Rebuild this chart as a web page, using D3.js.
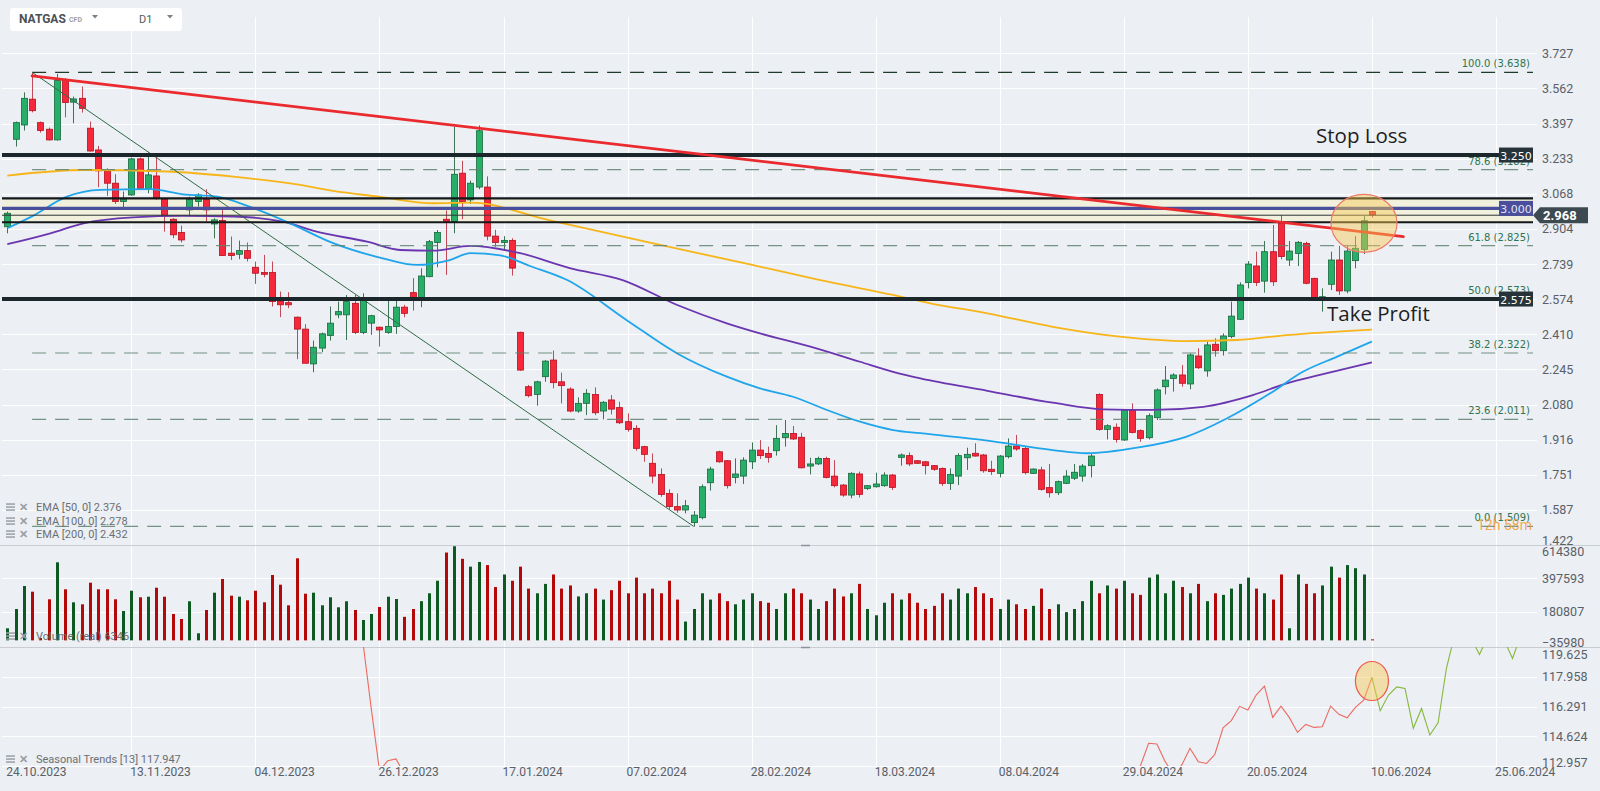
<!DOCTYPE html>
<html>
<head>
<meta charset="utf-8">
<script src="https://cdn.jsdelivr.net/npm/d3@7"></script>
<style>
  body { margin: 0; background: #eceff3; }
  svg { display: block; font-family: Roboto, 'Noto Sans', sans-serif; }
</style>
</head>
<body>
<svg id="chart" width="1600" height="791"></svg>
<script>
// ---- data ----
// daily candles, [open, high, low, close], bar 0 = 24.10.2023, bar 165 = 10.06.2024
const ohlc = [
  [2.914, 2.985, 2.883, 2.977], [3.324, 3.407, 3.290, 3.402], [3.391, 3.544, 3.365, 3.516], [3.512, 3.637, 3.450, 3.458],
  [3.402, 3.407, 3.355, 3.365], [3.371, 3.379, 3.318, 3.321], [3.321, 3.630, 3.318, 3.599], [3.602, 3.610, 3.427, 3.496],
  [3.498, 3.524, 3.399, 3.513], [3.516, 3.571, 3.449, 3.469], [3.376, 3.407, 3.266, 3.269], [3.274, 3.293, 3.099, 3.176],
  [3.176, 3.188, 3.059, 3.118], [3.118, 3.160, 3.021, 3.032], [3.032, 3.079, 2.993, 3.043], [3.063, 3.238, 3.059, 3.232],
  [3.232, 3.238, 3.087, 3.094], [3.094, 3.262, 3.071, 3.157], [3.152, 3.243, 3.040, 3.048], [3.043, 3.048, 2.891, 2.966],
  [2.949, 2.954, 2.860, 2.876], [2.887, 2.919, 2.840, 2.852], [2.993, 3.055, 2.962, 3.043], [3.032, 3.071, 3.008, 3.063],
  [3.043, 3.090, 2.938, 2.993], [2.927, 2.954, 2.860, 2.946], [2.943, 2.993, 2.779, 2.779], [2.790, 2.868, 2.758, 2.779],
  [2.785, 2.849, 2.762, 2.802], [2.802, 2.840, 2.751, 2.766], [2.724, 2.751, 2.646, 2.696], [2.699, 2.782, 2.677, 2.691],
  [2.699, 2.751, 2.540, 2.563], [2.566, 2.610, 2.490, 2.548], [2.558, 2.607, 2.532, 2.548], [2.490, 2.493, 2.293, 2.434],
  [2.434, 2.457, 2.274, 2.274], [2.271, 2.380, 2.232, 2.349], [2.345, 2.418, 2.326, 2.412], [2.404, 2.540, 2.380, 2.462],
  [2.501, 2.563, 2.485, 2.516], [2.501, 2.594, 2.383, 2.563], [2.555, 2.594, 2.410, 2.418], [2.418, 2.602, 2.410, 2.574],
  [2.462, 2.501, 2.407, 2.497], [2.443, 2.446, 2.352, 2.430], [2.418, 2.571, 2.412, 2.446], [2.446, 2.568, 2.412, 2.537],
  [2.537, 2.548, 2.490, 2.508], [2.605, 2.673, 2.521, 2.583], [2.583, 2.719, 2.537, 2.683], [2.680, 2.852, 2.677, 2.844],
  [2.840, 2.899, 2.724, 2.887], [2.949, 2.990, 2.688, 2.938], [2.938, 3.383, 2.883, 3.160], [3.165, 3.223, 2.949, 3.032],
  [3.040, 3.130, 3.020, 3.118], [3.100, 3.389, 3.090, 3.364], [3.100, 3.150, 2.850, 2.870], [2.870, 2.900, 2.820, 2.840],
  [2.840, 2.870, 2.800, 2.850], [2.850, 2.860, 2.685, 2.720], [2.419, 2.422, 2.239, 2.242], [2.164, 2.172, 2.114, 2.122],
  [2.128, 2.192, 2.075, 2.187], [2.211, 2.289, 2.187, 2.284], [2.289, 2.333, 2.156, 2.183], [2.187, 2.230, 2.086, 2.169],
  [2.153, 2.161, 2.044, 2.050], [2.050, 2.114, 2.042, 2.086], [2.086, 2.153, 2.031, 2.133], [2.128, 2.161, 2.031, 2.042],
  [2.050, 2.097, 2.011, 2.091], [2.102, 2.125, 2.034, 2.059], [2.066, 2.094, 1.989, 1.995], [2.000, 2.039, 1.953, 1.964],
  [1.969, 1.984, 1.864, 1.875], [1.883, 1.887, 1.812, 1.847], [1.805, 1.851, 1.711, 1.745], [1.753, 1.781, 1.648, 1.659],
  [1.664, 1.683, 1.589, 1.602], [1.602, 1.664, 1.573, 1.586], [1.586, 1.633, 1.570, 1.606], [1.527, 1.581, 1.508, 1.562],
  [1.550, 1.706, 1.542, 1.695], [1.714, 1.789, 1.677, 1.778], [1.859, 1.864, 1.808, 1.812], [1.817, 1.820, 1.687, 1.700],
  [1.739, 1.828, 1.711, 1.755], [1.745, 1.833, 1.708, 1.820], [1.812, 1.903, 1.778, 1.867], [1.867, 1.914, 1.825, 1.841],
  [1.851, 1.883, 1.808, 1.833], [1.864, 1.984, 1.841, 1.922], [1.925, 2.008, 1.883, 1.945], [1.945, 1.980, 1.914, 1.919],
  [1.927, 1.948, 1.781, 1.784], [1.792, 1.831, 1.753, 1.802], [1.802, 1.836, 1.797, 1.828], [1.828, 1.836, 1.734, 1.739],
  [1.745, 1.820, 1.692, 1.700], [1.703, 1.708, 1.648, 1.656], [1.656, 1.763, 1.641, 1.758], [1.755, 1.766, 1.645, 1.659],
  [1.687, 1.703, 1.680, 1.700], [1.695, 1.761, 1.691, 1.708], [1.700, 1.763, 1.695, 1.750], [1.750, 1.755, 1.680, 1.692],
  [1.833, 1.851, 1.794, 1.844], [1.841, 1.856, 1.792, 1.802], [1.817, 1.820, 1.802, 1.805], [1.812, 1.816, 1.753, 1.794],
  [1.794, 1.797, 1.770, 1.777], [1.781, 1.786, 1.699, 1.711], [1.711, 1.781, 1.680, 1.753], [1.745, 1.852, 1.703, 1.841],
  [1.831, 1.878, 1.774, 1.847], [1.852, 1.899, 1.836, 1.839], [1.844, 1.849, 1.761, 1.770], [1.777, 1.817, 1.750, 1.766],
  [1.758, 1.844, 1.739, 1.839], [1.836, 1.922, 1.828, 1.886], [1.886, 1.938, 1.864, 1.872], [1.875, 1.886, 1.753, 1.761],
  [1.758, 1.781, 1.755, 1.778], [1.774, 1.789, 1.677, 1.683], [1.691, 1.802, 1.645, 1.667], [1.667, 1.724, 1.656, 1.719],
  [1.711, 1.773, 1.708, 1.745], [1.735, 1.802, 1.727, 1.763], [1.745, 1.802, 1.719, 1.792], [1.794, 1.849, 1.739, 1.839],
  [2.128, 2.133, 1.958, 1.964], [1.964, 1.988, 1.917, 1.981], [1.974, 1.992, 1.902, 1.917], [1.914, 2.058, 1.911, 2.055],
  [2.052, 2.086, 1.945, 1.950], [1.958, 1.964, 1.906, 1.922], [1.925, 2.039, 1.917, 2.028], [2.019, 2.156, 2.008, 2.149],
  [2.164, 2.261, 2.128, 2.195], [2.203, 2.227, 2.141, 2.219], [2.219, 2.266, 2.164, 2.180], [2.177, 2.320, 2.152, 2.313],
  [2.308, 2.344, 2.247, 2.253], [2.238, 2.375, 2.211, 2.360], [2.363, 2.391, 2.305, 2.333], [2.333, 2.414, 2.310, 2.402],
  [2.399, 2.563, 2.391, 2.495], [2.480, 2.653, 2.477, 2.641], [2.652, 2.753, 2.625, 2.739], [2.730, 2.797, 2.636, 2.653],
  [2.659, 2.847, 2.605, 2.797], [2.797, 2.922, 2.636, 2.656], [2.938, 2.969, 2.761, 2.774], [2.758, 2.847, 2.730, 2.800],
  [2.789, 2.847, 2.730, 2.841], [2.836, 2.844, 2.644, 2.649], [2.672, 2.675, 2.571, 2.578], [2.575, 2.625, 2.516, 2.586],
  [2.644, 2.797, 2.617, 2.758], [2.758, 2.824, 2.594, 2.613], [2.613, 2.828, 2.602, 2.800], [2.755, 2.870, 2.719, 2.813],
  [2.808, 2.964, 2.786, 2.942], [2.985, 2.988, 2.958, 2.969]
];

// real volume per bar (bar 4 too small to see, bar 165 is today's 6346)
const volume = [
  76900, 200000, 346600, 310200, 15000, 261800, 497700, 325600, 242600, 229900,
  367600, 325600, 325600, 261800, 187200, 316600, 274500, 278400, 335700, 278400,
  168000, 136200, 249000, 45000, 193600, 303900, 391200, 284700, 278400, 255400,
  316600, 242600, 416700, 354900, 223500, 523200, 297500, 303900, 223500, 274500,
  210800, 249000, 193600, 129800, 168000, 212900, 278400, 263700, 150000, 200000,
  250000, 300000, 380000, 560000, 600000, 520000, 470000, 500000, 480000, 340000,
  420000, 380000, 470000, 330000, 300000, 360000, 420000, 330000, 350000, 280000,
  300000, 330000, 260000, 320000, 380000, 300000, 400000, 300000, 330000, 300000,
  380000, 260000, 120000, 200000, 300000, 260000, 300000, 250000, 230000, 260000,
  300000, 250000, 240000, 200000, 300000, 330000, 300000, 260000, 200000, 250000,
  330000, 280000, 300000, 360000, 200000, 160000, 240000, 300000, 260000, 300000,
  240000, 200000, 220000, 300000, 260000, 330000, 300000, 340000, 300000, 270000,
  200000, 260000, 230000, 200000, 220000, 330000, 200000, 230000, 180000, 200000,
  250000, 380000, 300000, 350000, 330000, 380000, 300000, 290000, 400000, 420000,
  300000, 380000, 340000, 300000, 360000, 250000, 300000, 290000, 330000, 360000,
  400000, 330000, 300000, 260000, 420000, 77000, 420000, 360000, 300000, 350000,
  470000, 400000, 480000, 460000, 420000, 6346
];

// moving averages sampled along the lines: [bar, value]
const ema50 = [[0, 2.907], [3.1, 2.965], [7.2, 3.055], [11.2, 3.087], [17.3, 3.090], [21.2, 3.066], [25.4, 3.055],
  [29.3, 3.008], [34.2, 2.930], [39.4, 2.837], [45.4, 2.766], [49.5, 2.735], [53.5, 2.758], [56, 2.790],
  [59.6, 2.780], [63.2, 2.730], [67.7, 2.664], [74.9, 2.476], [81, 2.320], [87, 2.211], [91, 2.156], [95, 2.117],
  [99.1, 2.055], [103.1, 2.000], [107.1, 1.961], [110.4, 1.946], [118.5, 1.911], [126.4, 1.867], [130.5, 1.852],
  [136.6, 1.878], [142.6, 1.930], [147.5, 2.016], [152.7, 2.133], [156.7, 2.235], [160.8, 2.305], [165, 2.376]];
const ema100 = [[0, 2.832], [5.2, 2.883], [9.2, 2.930], [15.2, 2.958], [21.2, 2.965], [27.3, 2.962], [33.3, 2.938],
  [37.4, 2.891], [43.5, 2.844], [47.5, 2.805], [51.5, 2.802], [56, 2.824], [62, 2.790], [68, 2.720], [74.4, 2.664],
  [81, 2.547], [87, 2.461], [91, 2.414], [97.1, 2.352], [103.1, 2.281], [107.1, 2.234], [110.4, 2.203],
  [118.5, 2.145], [126.4, 2.089], [132.5, 2.058], [138.5, 2.055], [144.6, 2.070], [150.6, 2.125], [154.7, 2.180],
  [158.7, 2.219], [165, 2.278]];
const ema200 = [[0, 3.154], [9.2, 3.180], [19.3, 3.173], [27.3, 3.149], [35.4, 3.110], [39.4, 3.082], [44.9, 3.055],
  [51.5, 3.024], [56, 3.027], [65.6, 2.944], [77.7, 2.840], [89.8, 2.737], [98.3, 2.664], [107.1, 2.594],
  [111.6, 2.555], [118.5, 2.508], [126.4, 2.445], [134.5, 2.399], [142.6, 2.378], [148.7, 2.383], [154.7, 2.406],
  [165, 2.432]];

// seasonal trend [13]: [bar, value]; null = break (line runs below the panel there)
const seasonal = [[42, 121.0], [43, 119.9], [44, 116.2], [45, 112.7], [46, 113.25], [47, 113.35], [48, 112.5],
  [49, null],
  [136, 112.3], [137, 112.96], [138, 114.23], [139, 114.19], [140, 113.2], [141, 112.5], [142, 113.0], [143, 113.95],
  [144, 113.2], [145, 113.1], [146, 113.6], [147, 115.1], [148, 115.5], [149, 116.3], [150, 116.09], [151, 116.93],
  [152, 117.43], [153, 115.68], [154, 116.31], [155, 115.68], [156, 114.84], [157, 115.29], [158, 115.12],
  [159, 115.16], [160, 116.31], [161, 115.85], [162, 115.66], [163, 116.24], [164, 116.65], [165, 117.92],
  [166, 116.05], [167, 116.93], [168, 117.39], [169, 117.30], [170, 115.07], [171, 116.18], [172, 114.69],
  [173, 115.38], [174, 118.42], [175, 120.3], [176, 120.6], [177, 120.1], [178, 119.21], [179, 120.2], [180, 120.5],
  [181, 120.0], [182, 118.98], [183, 120.3]];
const lastBar = 165;

// fibonacci retracement drawn from the high (bar 3) to the low (bar 83)
const fibLevels = ['100.0', '78.6', '61.8', '50.0', '38.2', '23.6', '0.0'];
const fibValues = [3.638, 3.182, 2.825, 2.573, 2.322, 2.011, 1.509];
const fibFrom = 3, fibTo = 83;

// trader's levels
const stopLoss = 3.250, takeProfit = 2.575, entry = 3.000, lastPrice = 2.968;
const zoneTop = 3.047, zoneBottom = 2.935;
const trendline = [[3, 3.621], [168.8, 2.868]];

// axis ticks
const priceTicks = [3.727, 3.562, 3.397, 3.233, 3.068, 2.904, 2.739, 2.574, 2.410, 2.245, 2.080, 1.916, 1.751, 1.587, 1.422];
const volTicks = [614380, 397593, 180807, -35980];
const seasTicks = [119.625, 117.958, 116.291, 114.624, 112.957];
const dateTickBars = [0, 15, 30, 45, 60, 75, 90, 105, 120, 135, 150, 165, 180];
const dateLabels = ['24.10.2023', '13.11.2023', '04.12.2023', '26.12.2023', '17.01.2024', '07.02.2024', '28.02.2024',
  '18.03.2024', '08.04.2024', '29.04.2024', '20.05.2024', '10.06.2024', '25.06.2024'];

// ---- layout ----
const lineEnd = 1533, gridEnd = 1537, axisX = 1542;
const x = d3.scaleLinear().domain([0, 180]).range([7.3, 1496]);
const yP = d3.scaleLinear().domain([1.422, 3.727]).range([545, 53.3]);
const yV = d3.scaleLinear().domain([-35980, 614380]).range([646, 544]);
const yS = d3.scaleLinear().domain([112.957, 119.625]).range([766, 647]);

const svg = d3.select('#chart');
const defs = svg.append('defs');
defs.append('clipPath').attr('id', 'clipPrice').append('rect').attr('x', 0).attr('y', 0).attr('width', gridEnd).attr('height', 545);
defs.append('clipPath').attr('id', 'clipSeas').append('rect').attr('x', 0).attr('y', 647).attr('width', gridEnd).attr('height', 119);

svg.append('rect').attr('width', 1600).attr('height', 791).attr('fill', '#eceff3');

// GRID
const grid = svg.append('g').attr('stroke', '#ffffff').attr('stroke-width', 1);
grid.selectAll('.hp').data(priceTicks.slice(0, -1)).enter().append('line')
  .attr('x1', 2).attr('x2', gridEnd).attr('y1', d => Math.round(yP(d)) + 0.5).attr('y2', d => Math.round(yP(d)) + 0.5);
grid.selectAll('.hv').data(volTicks.slice(1, 3)).enter().append('line')
  .attr('x1', 2).attr('x2', gridEnd).attr('y1', d => Math.round(yV(d)) + 0.5).attr('y2', d => Math.round(yV(d)) + 0.5);
grid.selectAll('.hs').data(seasTicks.slice(1)).enter().append('line')
  .attr('x1', 2).attr('x2', gridEnd).attr('y1', d => Math.round(yS(d)) + 0.5).attr('y2', d => Math.round(yS(d)) + 0.5);
grid.selectAll('.v').data(dateTickBars.slice(1)).enter().append('line')
  .attr('x1', d => Math.round(x(d)) + 0.5).attr('x2', d => Math.round(x(d)) + 0.5).attr('y1', 17).attr('y2', 766);

// panel separators
[545, 647].forEach(yy => {
  svg.append('line').attr('x1', 0).attr('x2', 1600).attr('y1', yy + 0.5).attr('y2', yy + 0.5).attr('stroke', '#c9cdd2');
  svg.append('line').attr('x1', 801).attr('x2', 810).attr('y1', yy + 0.5).attr('y2', yy + 0.5).attr('stroke', '#8d939a').attr('stroke-width', 1.5);
});

// PRICE PANEL
const price = svg.append('g').attr('clip-path', 'url(#clipPrice)');

price.append('rect').attr('x', 2).attr('width', lineEnd - 2)
  .attr('y', yP(zoneTop)).attr('height', yP(zoneBottom) - yP(zoneTop)).attr('fill', '#f0f0dc');

const candles = price.append('g').selectAll('g').data(ohlc).enter().append('g')
  .attr('transform', (d, i) => `translate(${Math.round(x(i))}, 0)`);
candles.append('line')
  .attr('x1', 0.5).attr('x2', 0.5)
  .attr('y1', d => yP(d[1])).attr('y2', d => yP(d[2]))
  .attr('stroke', d => d[3] >= d[0] ? '#3f7356' : '#c24a57');
candles.append('rect')
  .attr('x', -2.5).attr('width', 6)
  .attr('y', d => yP(Math.max(d[0], d[3])))
  .attr('height', d => Math.max(1.5, Math.abs(yP(d[0]) - yP(d[3]))))
  .attr('fill', d => d[3] >= d[0] ? '#27ae68' : '#f5283c')
  .attr('stroke', d => d[3] >= d[0] ? '#17693f' : '#b5101f')
  .attr('stroke-width', 0.8);

const line = d3.line().x(d => x(d[0])).y(d => yP(d[1])).curve(d3.curveMonotoneX);
price.append('path').datum(ema200).attr('d', line).attr('fill', 'none').attr('stroke', '#f7b519').attr('stroke-width', 1.8);
price.append('path').datum(ema100).attr('d', line).attr('fill', 'none').attr('stroke', '#6a35b0').attr('stroke-width', 1.8);
price.append('path').datum(ema50).attr('d', line).attr('fill', 'none').attr('stroke', '#1ea5ec').attr('stroke-width', 1.8);

// fibonacci dashed levels
const fib = price.append('g');
fib.selectAll('line').data(fibValues).enter().append('line')
  .attr('x1', x(fibFrom)).attr('x2', lineEnd)
  .attr('y1', d => yP(d)).attr('y2', d => yP(d))
  .attr('stroke', (d, i) => i === 0 ? '#1e3b2a' : '#5f8270')
  .attr('stroke-opacity', (d, i) => i === 0 ? 1 : 0.85)
  .attr('stroke-width', 1.2)
  .attr('stroke-dasharray', '14,9');
price.append('line')
  .attr('x1', x(fibFrom)).attr('y1', yP(fibValues[0]))
  .attr('x2', x(fibTo)).attr('y2', yP(fibValues[fibValues.length - 1]))
  .attr('stroke', '#2f6b47').attr('stroke-width', 1);

// horizontal trade levels
const hline = (v, color, w) => price.append('line')
  .attr('x1', 2).attr('x2', lineEnd).attr('y1', yP(v)).attr('y2', yP(v))
  .attr('stroke', color).attr('stroke-width', w);
hline(zoneTop, '#15191b', 2.2);
hline(zoneBottom, '#15191b', 2.2);
hline(lastPrice, '#2d3337', 1);
hline(entry, '#4a4f9c', 3.2);
hline(stopLoss, '#1c272c', 4);
hline(takeProfit, '#1c272c', 4);

// falling trendline
price.append('line')
  .attr('x1', x(trendline[0][0])).attr('y1', yP(trendline[0][1]))
  .attr('x2', x(trendline[1][0])).attr('y2', yP(trendline[1][1]))
  .attr('stroke', '#ea2a2e').attr('stroke-width', 2.8).attr('stroke-linecap', 'round');

// highlight around the last candle
price.append('ellipse').attr('cx', 1364).attr('cy', yP(2.93)).attr('rx', 33).attr('ry', 29)
  .attr('fill', 'rgba(246, 200, 80, 0.45)').attr('stroke', '#ef7a6a').attr('stroke-width', 1.2);

// fib labels
svg.append('g').selectAll('text').data(fibValues).enter().append('text')
  .attr('x', 1530).attr('y', d => yP(d) - 5)
  .attr('text-anchor', 'end')
  .attr('font-family', 'DejaVu Sans, sans-serif').attr('font-size', 10)
  .attr('fill', '#2d7550')
  .text((d, i) => `${fibLevels[i]} (${d.toFixed(3)})`);

// countdown
svg.append('text').attr('x', 1477).attr('y', 530).attr('font-size', 14).attr('fill', '#f59a2c').attr('fill-opacity', 0.85)
  .text('12h 58m');

// annotation text
svg.append('text').attr('x', 1316).attr('y', 143).attr('font-family', 'Open Sans, sans-serif')
  .attr('font-size', 20.5).attr('fill', '#1e1e1e').text('Stop Loss');
svg.append('text').attr('x', 1327).attr('y', 321).attr('font-family', 'Open Sans, sans-serif')
  .attr('font-size', 20.5).attr('fill', '#1e1e1e').text('Take Profit');

// level tags
const tag = (v, fill, txtColor) => {
  const g = svg.append('g').attr('transform', `translate(1499, ${yP(v)})`);
  g.append('rect').attr('x', 0).attr('y', -7.5).attr('width', 34).attr('height', 15).attr('fill', fill);
  g.append('text').attr('x', 17).attr('y', 4.5).attr('text-anchor', 'middle')
    .attr('font-family', 'DejaVu Sans, sans-serif').attr('font-size', 11).attr('fill', txtColor)
    .text(v.toFixed(3));
};
tag(stopLoss, '#26343a', '#ffffff');
tag(entry, '#4a4e9c', '#e4e4f2');
tag(takeProfit, '#26343a', '#ffffff');

const pt = svg.append('g').attr('transform', `translate(1533, ${yP(lastPrice)})`);
pt.append('path').attr('d', 'M0,0 L7,-8 L55,-8 L55,8 L7,8 Z').attr('fill', '#3d4a52');
pt.append('text').attr('x', 10).attr('y', 5).attr('font-size', 13).attr('font-weight', 'bold').attr('fill', '#ffffff')
  .text(lastPrice.toFixed(3));

// VOLUME PANEL
svg.append('g').selectAll('rect').data(volume).enter().append('rect')
  .attr('x', (d, i) => Math.round(x(i)) - 1)
  .attr('width', 3)
  .attr('y', d => yV(d))
  .attr('height', d => yV(0) - yV(d))
  .attr('fill', (d, i) => ohlc[i][3] >= ohlc[i][0] ? '#0c5a22' : '#b50808');

// SEASONAL PANEL
const sLine = d3.line().defined(d => d[1] !== null).x(d => x(d[0])).y(d => yS(d[1]));
const seas = svg.append('g').attr('clip-path', 'url(#clipSeas)');
seas.append('path').datum(seasonal.filter(d => d[0] <= lastBar)).attr('d', sLine)
  .attr('fill', 'none').attr('stroke', '#ec6a60').attr('stroke-width', 1.1);
seas.append('path').datum(seasonal.filter(d => d[0] >= lastBar)).attr('d', sLine)
  .attr('fill', 'none').attr('stroke', '#86b83c').attr('stroke-width', 1.1);
seas.append('ellipse').attr('cx', x(lastBar)).attr('cy', 681).attr('rx', 16.5).attr('ry', 19.5)
  .attr('fill', 'rgba(246, 200, 80, 0.45)').attr('stroke', '#ef5a4a').attr('stroke-width', 1.2);

// AXES
function styleAxis(g) {
  g.select('.domain').remove();
  g.selectAll('text').attr('fill', '#5a6068').attr('font-size', 12.5).attr('font-family', 'Roboto, sans-serif');
}
svg.append('g').attr('transform', `translate(${axisX}, 0)`)
  .call(d3.axisRight(yP).tickValues(priceTicks).tickFormat(d3.format('.3f')).tickSize(0).tickPadding(0))
  .call(styleAxis)
  .selectAll('text').attr('dy', d => d === 1.422 ? '-0.05em' : '0.32em');
svg.append('g').attr('transform', `translate(${axisX}, 0)`)
  .call(d3.axisRight(yV).tickValues(volTicks).tickFormat(d3.format('d')).tickSize(0).tickPadding(0))
  .call(styleAxis)
  .selectAll('text').attr('dy', d => d === 614380 ? '0.95em' : d === -35980 ? '0.05em' : '0.32em');
svg.append('g').attr('transform', `translate(${axisX}, 0)`)
  .call(d3.axisRight(yS).tickValues(seasTicks).tickFormat(d3.format('.3f')).tickSize(0).tickPadding(0))
  .call(styleAxis)
  .selectAll('text').attr('dy', d => d === 119.625 ? '0.95em' : d === 112.957 ? '0.05em' : '0.32em');

svg.append('g').selectAll('text').data(dateTickBars).enter().append('text')
  .attr('x', d => x(d) - 1).attr('y', 776)
  .attr('font-size', 12).attr('fill', '#5a6068')
  .text((d, i) => dateLabels[i]);

// LEGENDS
function legend(yy, label) {
  const g = svg.append('g').attr('transform', `translate(6, ${yy})`);
  [-3, 0, 3].forEach(o => g.append('rect').attr('x', 0).attr('y', o - 0.7).attr('width', 9).attr('height', 1.5).attr('fill', '#9aa0a6'));
  g.append('text').attr('x', 13).attr('y', 4).attr('font-size', 11).attr('font-weight', 'bold').attr('fill', '#9aa0a6').text('✕');
  g.append('text').attr('x', 30).attr('y', 4).attr('font-size', 11).attr('fill', '#6a6f75').text(label);
}
legend(507, 'EMA [50,  0] 2.376');
legend(521, 'EMA [100,  0] 2.278');
legend(534, 'EMA [200,  0] 2.432');
legend(636, 'Volume  (real)  6346');
legend(759, 'Seasonal  Trends  [13]  117.947');

// HEADER
const hdr = svg.append('g');
hdr.append('rect').attr('x', 10).attr('y', 8).attr('width', 172).attr('height', 23).attr('rx', 3).attr('fill', '#ffffff');
hdr.append('text').attr('x', 19).attr('y', 23).attr('font-size', 12).attr('font-weight', 'bold').attr('fill', '#4b5057').text('NATGAS');
hdr.append('text').attr('x', 69).attr('y', 22).attr('font-size', 7).attr('font-weight', 'bold').attr('fill', '#9ba0a5').text('CFD');
hdr.append('text').attr('x', 139).attr('y', 23).attr('font-size', 11).attr('fill', '#555a60').text('D1');
[92, 167].forEach(tx => hdr.append('path').attr('d', `M${tx},15 L${tx + 6},15 L${tx + 3},18.5 Z`).attr('fill', '#7b8086'));
</script>
</body>
</html>
